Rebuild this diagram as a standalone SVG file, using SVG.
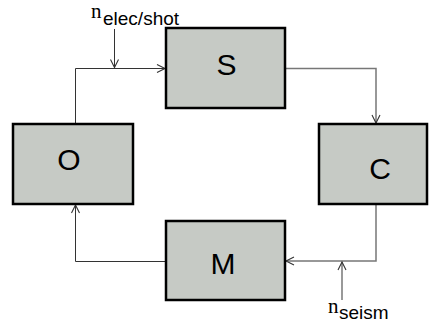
<svg xmlns="http://www.w3.org/2000/svg" width="429" height="322" viewBox="0 0 429 322">
<style>
.box{fill:#c6cac5;stroke:#000;stroke-width:2.5}
.lbl{font-family:"Liberation Sans",Arial,sans-serif;font-size:30px;fill:#000;text-anchor:middle}
.conn{fill:none;stroke:#333;stroke-width:1}
.conn2{fill:none;stroke:#777;stroke-width:1.5}
.n{font-family:"Liberation Serif","Times New Roman",serif;font-size:21px;fill:#000}
.sub{font-family:"Liberation Sans",Arial,sans-serif;font-size:19px;fill:#000}
</style>
<defs>
<marker id="arr" markerUnits="userSpaceOnUse" markerWidth="12" markerHeight="12" refX="9" refY="5" orient="auto">
<path d="M1,1 L9,5 L1,9" fill="none" stroke="#333" stroke-width="1.1"/>
</marker>
</defs>
<g id="connectors">
<path class="conn" d="M75.5,124 V68.5 H165" marker-end="url(#arr)"/>
<path class="conn2" d="M285,68.5 H376 V123" marker-end="url(#arr)"/>
<path class="conn2" d="M376,204 V261 H286" marker-end="url(#arr)"/>
<path class="conn" d="M166,261.5 H75.5 V205" marker-end="url(#arr)"/>
<path class="conn" d="M114.5,29 V67.5" marker-end="url(#arr)"/>
<path class="conn2" d="M342,300 V262" marker-end="url(#arr)"/>
</g>
<g id="node-S">
<rect class="box" x="166" y="28" width="119" height="80"/>
<text class="lbl" x="226.5" y="75">S</text>
</g>
<g id="node-C">
<rect class="box" x="319" y="124" width="108" height="80"/>
<text class="lbl" x="380" y="179">C</text>
</g>
<g id="node-O">
<rect class="box" x="13" y="124" width="120" height="80"/>
<text class="lbl" x="69" y="170">O</text>
</g>
<g id="node-M">
<rect class="box" x="166" y="221" width="119" height="79"/>
<text class="lbl" x="223" y="274">M</text>
</g>
<g id="label-elec">
<text class="n" x="91" y="18">n</text>
<text class="sub" x="103" y="25">elec/shot</text>
</g>
<g id="label-seism">
<text class="n" x="328" y="313">n</text>
<text class="sub" x="339" y="319">seism</text>
</g>
</svg>
